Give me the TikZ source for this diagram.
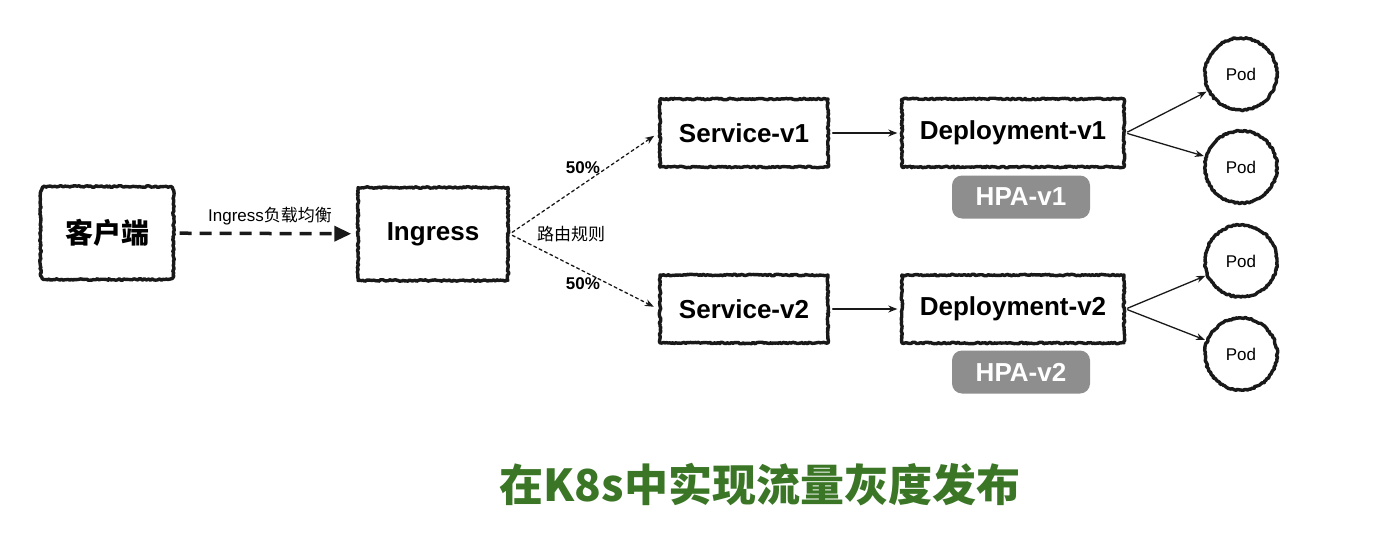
\documentclass[tikz,border=0pt]{standalone}
\usepackage{fontspec}
\setmainfont{Liberation Sans}
\newfontfamily\cjk{Noto Sans CJK SC}
\usetikzlibrary{arrows.meta,decorations.pathmorphing}
\definecolor{inkblack}{RGB}{25,25,25}
\definecolor{hpagray}{RGB}{142,142,142}
\definecolor{titlegreen}{RGB}{58,118,38}
\tikzset{
    sketch/.style={
        draw=inkblack, line width=3.4pt, decorate,
        decoration={random steps, segment length=1.6pt, amplitude=0.8pt}
    }
}

\begin{document}
\begin{tikzpicture}[x=1pt,y=-1pt, line cap=round, line join=round]

\tikzset{
  box/.style={sketch, rectangle, inner sep=0pt, font=\fontsize{26}{30}\selectfont\bfseries},
  pod/.style={sketch, circle, minimum size=72pt, inner sep=0pt, font=\fontsize{17}{20}\selectfont},
  hpa/.style={rectangle, rounded corners=10pt, fill=hpagray, text=white, minimum width=138pt, minimum height=43pt, inner sep=0pt, font=\fontsize{26}{30}\selectfont\bfseries},
  lab/.style={font=\fontsize{17}{20}\selectfont},
  flow/.style={draw=inkblack, line width=1.3pt, -{Stealth[length=9pt,width=7pt]}},
  route/.style={flow, dash pattern=on 3pt off 3pt},
}

\useasboundingbox (0,0) rectangle (1400,551);
\pgfmathsetseed{7}

% boxes
\node[inner sep=0pt, minimum width=133pt, minimum height=93pt, font=\fontsize{28}{32}\selectfont\cjk\bfseries] (client) at (107,233) {客户端};
% rounded sketchy border of the client box
\draw[sketch] (53.5,186.5) -- (160.5,186.5) .. controls (173.5,186.5) .. (173.5,199.5)
  -- (173.5,266.5) .. controls (173.5,279.5) .. (160.5,279.5)
  -- (53.5,279.5) .. controls (40.5,279.5) .. (40.5,266.5)
  -- (40.5,199.5) .. controls (40.5,186.5) .. (53.5,186.5) -- cycle;
\node[box, minimum width=150pt, minimum height=93pt] (ingress) at (433,234) {Ingress};
\node[box, minimum width=168pt, minimum height=68pt] (svcA) at (744,133) {Service-v1};
\node[box, minimum width=168pt, minimum height=68pt] (svcB) at (744,309) {Service-v2};
\node[box, minimum width=222pt, minimum height=68pt] (depA) at (1013,133) {Deployment-v1};
\node[box, minimum width=222pt, minimum height=68pt] (depB) at (1013,309) {Deployment-v2};

% HPA
\node[hpa] (hpaA) at (1021,197) {HPA-v1};
\node[hpa] (hpaB) at (1021,372) {HPA-v2};

% pods
\node[pod] (podA) at (1241,74) {Pod};
\node[pod] (podB) at (1241,167) {Pod};
\node[pod] (podC) at (1241,261) {Pod};
\node[pod] (podD) at (1241,354) {Pod};

% client -> ingress
\draw[draw=inkblack, line width=3.5pt, line cap=butt, dash pattern=on 12pt off 8pt,
      -{Triangle[length=17pt,width=15pt]}, shorten <=6pt, shorten >=5pt] (client) -- (ingress);
\node[lab] (lbLabel) at (270,216) {Ingress{\cjk 负载均衡}};

% ingress -> services
\draw[route, shorten <=3pt, shorten >=5pt] (ingress.east) -- (svcA.west);
\draw[route, shorten <=3pt, shorten >=5pt] (ingress.east) -- (svcB.west);
\node[lab, font=\fontsize{17}{20}\selectfont\bfseries] (pctA) at (583,168) {50\%};
\node[lab, font=\fontsize{17}{20}\selectfont\bfseries] (pctB) at (583,284) {50\%};
\node[lab, font=\fontsize{17}{20}\selectfont\cjk] (rule) at (571,234) {路由规则};

% services -> deployments
\draw[flow, shorten <=3pt, shorten >=3pt] (svcA) -- (depA);
\draw[flow, shorten <=3pt, shorten >=3pt] (svcB) -- (depB);

% deployments -> pods
\draw[flow, shorten <=2pt, shorten >=1pt] (depA.east) -- (podA);
\draw[flow, shorten <=2pt, shorten >=1pt] (depA.east) -- (podB);
\draw[flow, shorten <=2pt, shorten >=1pt] (depB.east) -- (podC);
\draw[flow, shorten <=2pt, shorten >=1pt] (depB.east) -- (podD);

% title
\node[text=titlegreen, font=\fontsize{44}{50}\selectfont\cjk\bfseries] (title) at (760,485) {在K8s中实现流量灰度发布};

\end{tikzpicture}
\end{document}
